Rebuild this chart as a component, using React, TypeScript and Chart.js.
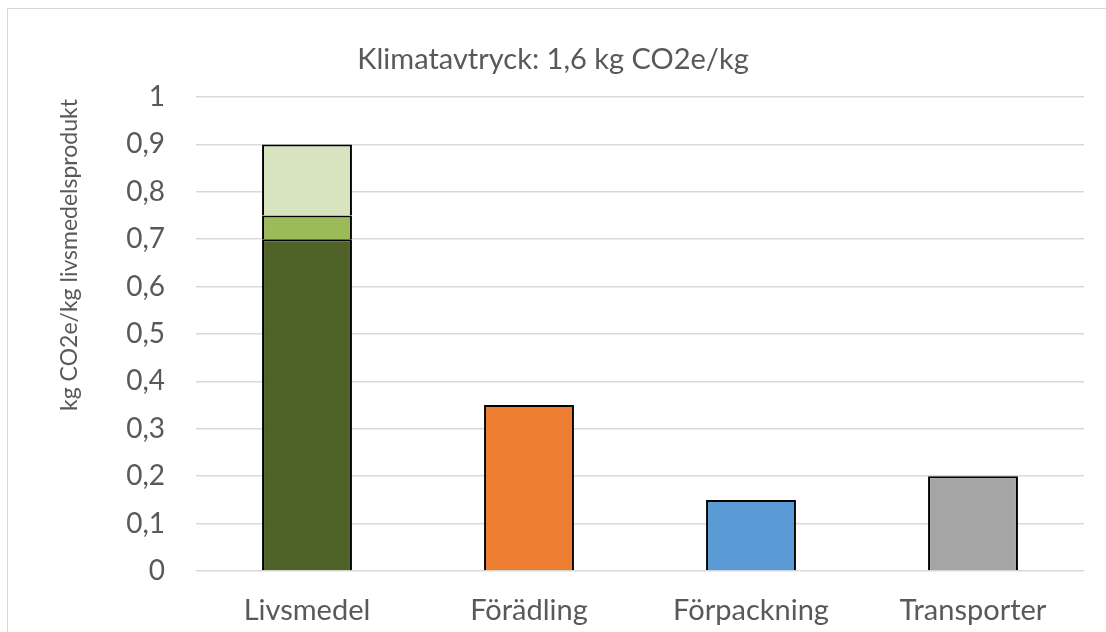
import React, { useEffect, useRef } from "react";
import { Chart, registerables } from "chart.js";

Chart.register(...registerables);

const categories = ["Livsmedel", "Förädling", "Förpackning", "Transporter"];
const baseValues = [0.7, 0.35, 0.15, 0.2];
const midValues: (number | null)[] = [0.05, null, null, null];
const topValues: (number | null)[] = [0.15, null, null, null];
const baseColors = ["#4f6228", "#ed7d31", "#5b9bd5", "#a5a5a5"];
const midColor = "#9bbb59";
const topColor = "#d7e4bd";
const titleText = "Klimatavtryck: 1,6 kg CO2e/kg";
const yTitleText = "kg CO2e/kg livsmedelsprodukt";

const FONT = "Lato, 'Open Sans', sans-serif";
const TEXT = "#595959";

const textPlugin = {
  id: "texts",
  afterDraw(chart: any) {
    const ctx = chart.ctx;
    ctx.save();
    ctx.fillStyle = TEXT;
    ctx.font = `29px ${FONT}`;
    ctx.textAlign = "center";
    ctx.textBaseline = "alphabetic";
    ctx.fillText(titleText, 553, 69);
    ctx.translate(70, 255);
    ctx.rotate(-Math.PI / 2);
    ctx.font = `23px ${FONT}`;
    ctx.textBaseline = "middle";
    ctx.fillText(yTitleText, 0, 0);
    ctx.restore();
  },
};

export default function App() {
  const ref = useRef<HTMLCanvasElement>(null);
  useEffect(() => {
    if (!ref.current) return;
    const chart = new Chart(ref.current, {
      type: "bar",
      data: {
        labels: categories,
        datasets: [
          {
            data: baseValues,
            backgroundColor: baseColors,
            borderColor: "#000000",
            borderWidth: 2,
          },
          {
            data: midValues,
            backgroundColor: midColor,
            borderColor: "#000000",
            borderWidth: 2,
          },
          {
            data: topValues,
            backgroundColor: topColor,
            borderColor: "#000000",
            borderWidth: 2,
          },
        ],
      },
      options: {
        animation: false,
        responsive: false,
        maintainAspectRatio: false,
        layout: { padding: { top: 97, right: 22, left: 0, bottom: 0 } },
        datasets: {
          bar: { categoryPercentage: 1, barPercentage: 0.405 },
        },
        plugins: {
          legend: { display: false },
          title: { display: false },
          tooltip: { enabled: false },
        },
        scales: {
          x: {
            stacked: true,
            grid: { display: false },
            border: { display: false },
            ticks: {
              color: TEXT,
              font: { family: FONT, size: 29 },
              padding: 14,
            },
            afterFit: (s: any) => {
              s.height = 61;
            },
          },
          y: {
            stacked: true,
            min: 0,
            max: 1,
            grid: { color: "#d9d9d9", lineWidth: 1.5, drawTicks: false },
            border: { display: false },
            ticks: {
              stepSize: 0.1,
              color: TEXT,
              font: { family: FONT, size: 28 },
              padding: 31,
              callback: (v: any) => Number(Number(v).toFixed(1)).toString().replace(".", ","),
            },
            afterFit: (s: any) => {
              s.width = 196;
            },
          },
        },
      },
      plugins: [textPlugin],
    });
    return () => chart.destroy();
  }, []);
  return (
    <div
      style={{
        position: "fixed",
        left: 0,
        top: 0,
        width: 1106,
        height: 632,
        overflow: "hidden",
        background: "#ffffff",
      }}
    >
      <div
        style={{
          position: "absolute",
          left: 7,
          top: 8,
          width: 1200,
          height: 700,
          border: "1.5px solid #d9d9d9",
        }}
      />
      <canvas
        ref={ref}
        width={1106}
        height={632}
        style={{ position: "absolute", left: 0, top: 0, width: 1106, height: 632 }}
      />
    </div>
  );
}
